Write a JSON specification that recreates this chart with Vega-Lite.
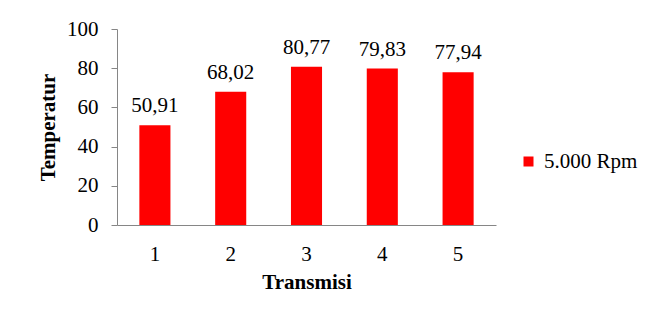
{
  "$schema": "https://vega.github.io/schema/vega-lite/v6.json",
  "width": 379,
  "height": 196,
  "autosize": {"type": "none"},
  "padding": {"left": 117, "top": 29, "right": 163, "bottom": 92},
  "background": "white",
  "config": {
    "font": "Liberation Serif",
    "view": {"stroke": null},
    "axis": {"labelFont": "Liberation Serif", "titleFont": "Liberation Serif", "labelColor": "#000000", "titleColor": "#000000", "domainColor": "#868686", "tickColor": "#868686", "grid": false}
  },
  "data": {
    "values": [
      {"transmisi": "1", "temp": 50.91, "label": "50,91", "series": "5.000 Rpm"},
      {"transmisi": "2", "temp": 68.02, "label": "68,02", "series": "5.000 Rpm"},
      {"transmisi": "3", "temp": 80.77, "label": "80,77", "series": "5.000 Rpm"},
      {"transmisi": "4", "temp": 79.83, "label": "79,83", "series": "5.000 Rpm"},
      {"transmisi": "5", "temp": 77.94, "label": "77,94", "series": "5.000 Rpm"}
    ]
  },
  "encoding": {
    "x": {
      "field": "transmisi", "type": "ordinal", "title": "Transmisi",
      "scale": {"paddingInner": 0.59, "paddingOuter": 0.295},
      "axis": {"labelAngle": 0, "labelFontSize": 21, "titleFontSize": 21, "titleFontWeight": "bold", "ticks": false, "labelPadding": 18, "titlePadding": 7}
    },
    "y": {
      "field": "temp", "type": "quantitative", "title": "Temperatur",
      "scale": {"domain": [0, 100]},
      "axis": {"values": [0, 20, 40, 60, 80, 100], "labelFontSize": 21, "titleFontSize": 21, "titleFontWeight": "bold", "tickSize": 6, "labelPadding": 13, "titlePadding": 8}
    }
  },
  "layer": [
    {
      "mark": {"type": "bar"},
      "encoding": {
        "color": {
          "field": "series", "type": "nominal",
          "scale": {"range": ["#FF0000"]},
          "legend": {"title": null, "orient": "none", "legendX": 401, "legendY": 122, "symbolType": "square", "symbolSize": 100, "symbolStrokeWidth": 0, "labelFontSize": 21, "labelFont": "Liberation Serif", "labelColor": "#000000", "labelOffset": 5}
        }
      }
    },
    {
      "mark": {"type": "text", "baseline": "alphabetic", "dy": -13, "fontSize": 21, "font": "Liberation Serif", "color": "#000000"},
      "encoding": {"text": {"field": "label"}}
    }
  ]
}
